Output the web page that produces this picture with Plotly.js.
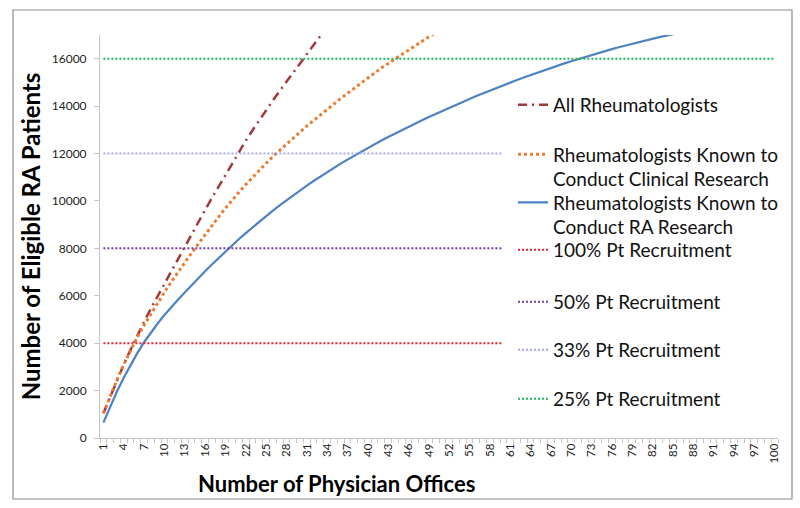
<!DOCTYPE html>
<html><head><meta charset="utf-8">
<script src="https://cdn.plot.ly/plotly-3.0.1.min.js"></script>
<style>html,body{margin:0;padding:0;background:#fff}#chart{width:800px;height:508px}</style>
</head><body><div id="chart"></div>
<script>
// ---- data ----
const offices = Array.from({length: 100}, (_, i) => i + 1);

const allRheumatologists = [1040, 1750, 2450, 3100, 3720, 4330, 4900, 5460, 5980, 6540,
  7080, 7600, 8110, 8620, 9120, 9620, 10120, 10610, 11120, 11620,
  12100, 12540, 12980, 13410, 13830, 14240, 14640, 15030, 15410, 15780,
  16160, 16560, 16960, 17350];

const clinicalResearch = [1040, 1760, 2450, 3100, 3700, 4250, 4760, 5240, 5700, 6150,
  6580, 7000, 7400, 7800, 8190, 8580, 8960, 9330, 9690, 10040,
  10370, 10690, 11000, 11300, 11590, 11870, 12140, 12400, 12660, 12910,
  13160, 13400, 13640, 13870, 14100, 14320, 14540, 14760, 14980, 15190,
  15400, 15610, 15800, 15990, 16180, 16370, 16560, 16750, 16930, 17110];

const raResearch = [650, 1330, 1960, 2540, 3080, 3580, 4040, 4450, 4830, 5185,
  5520, 5835, 6135, 6445, 6745, 7037, 7322, 7600, 7871, 8135,
  8393, 8645, 8891, 9131, 9365, 9593, 9815, 10031, 10241, 10446,
  10646, 10841, 11031, 11216, 11396, 11572, 11744, 11912, 12076, 12236,
  12393, 12547, 12698, 12846, 12991, 13133, 13272, 13408, 13542, 13674,
  13804, 13932, 14058, 14182, 14304, 14424, 14542, 14658, 14772, 14884,
  14994, 15102, 15208, 15312, 15414, 15514, 15612, 15708, 15802, 15894,
  15984, 16072, 16158, 16242, 16324, 16404, 16482, 16558, 16632, 16704,
  16774, 16842, 16908, 16972, 17034, 17094];

const thresholdNames = ['100% Pt Recruitment', '50% Pt Recruitment', '33% Pt Recruitment', '25% Pt Recruitment'];
const thresholdValues = [4000, 8000, 12000, 16000];

const xTickLabels = [1, 4, 7, 10, 13, 16, 19, 22, 25, 28, 31, 34, 37, 40, 43, 46, 49, 52, 55, 58,
  61, 64, 67, 70, 73, 76, 79, 82, 85, 88, 91, 94, 97, 100];
const yTickValues = [0, 2000, 4000, 6000, 8000, 10000, 12000, 14000, 16000];

// ---- styling ----
const FONT = 'Lato, "Open Sans", sans-serif';
const thresholdColors = ['#E3262B', '#7A3BA8', '#A3A8E4', '#1DB35A'];

const traces = [
  {x: offices.slice(0, allRheumatologists.length), y: allRheumatologists, name: 'All Rheumatologists',
   mode: 'lines', line: {color: '#A3383C', width: 2.5, dash: '9px,5px,2px,5px'}, legend: 'legend'},
  {x: offices.slice(0, clinicalResearch.length), y: clinicalResearch,
   name: 'Rheumatologists Known to<br>Conduct Clinical Research',
   mode: 'lines', line: {color: '#EE7A2D', width: 3, dash: 'dot'}, legend: 'legend2'},
  {x: offices.slice(0, raResearch.length), y: raResearch,
   name: 'Rheumatologists Known to<br>Conduct RA Research',
   mode: 'lines', line: {color: '#4D82C3', width: 2.2}, legend: 'legend3'}
];
thresholdValues.forEach((v, i) => {
  traces.push({x: [offices[0], offices[offices.length - 1]], y: [v, v], name: thresholdNames[i],
    mode: 'lines', line: {color: thresholdColors[i], width: 2, dash: '2px,2px'}, legend: 'legend' + (i + 4)});
});

// plot area: x 100..778 px, y 35..438 px
function leg(ypx) {
  return {x: (513 - 100) / 678, xref: 'paper', y: (438 - ypx) / 403, yref: 'paper',
    xanchor: 'left', yanchor: 'middle', bgcolor: 'rgba(0,0,0,0)', borderwidth: 0,
    font: {family: FONT, size: 19, color: '#111'}, valign: 'top', itemclick: false};
}

const layout = {
  width: 800, height: 508,
  margin: {l: 100, r: 22, t: 35, b: 70, autoexpand: false},
  paper_bgcolor: '#fff', plot_bgcolor: '#fff',
  font: {family: FONT, color: '#222'},
  showlegend: true,
  legend: leg(105), legend2: leg(167), legend3: leg(215), legend4: leg(250),
  legend5: leg(302), legend6: leg(350), legend7: leg(399),
  xaxis: {
    range: [0.5, 100.5], showgrid: false, zeroline: false,
    showline: true, linecolor: '#c4c4c4', linewidth: 1,
    tickmode: 'array', tickvals: xTickLabels, ticktext: xTickLabels.map(String),
    ticks: '', tickangle: -90, tickfont: {family: FONT, size: 11.5, color: '#222'},
    minor: {tickmode: 'linear', tick0: 0.5, dtick: 1, ticks: 'outside', ticklen: 4, tickcolor: '#c4c4c4', showgrid: false}
  },
  yaxis: {
    range: [0, 17000], showgrid: false, zeroline: false,
    showline: true, linecolor: '#c4c4c4', linewidth: 1,
    tickmode: 'array', tickvals: yTickValues, ticktext: yTickValues.map(String),
    ticks: 'outside', ticklen: 5, tickcolor: '#c4c4c4', ticklabelstandoff: 5,
    tickfont: {family: FONT, size: 12, color: '#222'},
    title: {text: '<b>Number of Eligible RA Patients</b>', font: {family: FONT, size: 24, color: '#000'}, standoff: 4}
  },
  annotations: [
    {text: '<b>Number of Physician Offices</b>', xref: 'paper', yref: 'paper',
     x: (336 - 100) / 678, y: (438 - 483) / 403, xanchor: 'center', yanchor: 'middle',
     showarrow: false, font: {family: FONT, size: 22, color: '#000'}}
  ],
  shapes: [
    // outer chart border
    {type: 'rect', xref: 'paper', yref: 'paper', x0: (13 - 100) / 678, x1: (792 - 100) / 678,
     y0: (438 - 499) / 403, y1: (438 - 10) / 403, line: {color: '#8c8c8c', width: 1.2}, fillcolor: 'rgba(0,0,0,0)', layer: 'below'},
    // white legend background box (covers lines behind legend, as in the original)
    {type: 'rect', xref: 'paper', yref: 'paper', x0: (502 - 100) / 678, x1: (786 - 100) / 678,
     y0: (438 - 420) / 403, y1: (438 - 92) / 403, line: {width: 0}, fillcolor: '#ffffff', layer: 'above'}
  ]
};

Plotly.newPlot('chart', traces, layout, {staticPlot: true, displayModeBar: false});
</script>
</body></html>
